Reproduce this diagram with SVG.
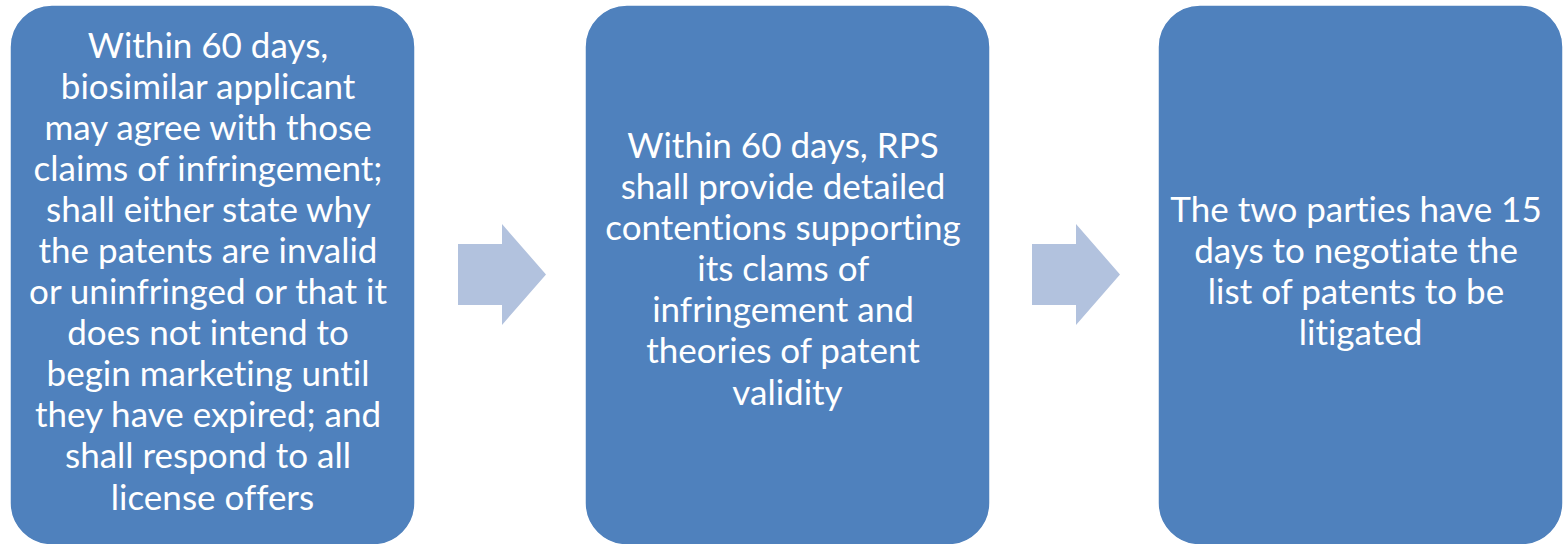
<svg xmlns="http://www.w3.org/2000/svg" width="1563" height="544" viewBox="0 0 1563 544">
<style>
.box{fill:#4F81BD;stroke:#FFFFFF;stroke-width:1.5}
.arrow{fill:#B2C2DE}
.t{font-family:Lato,"Open Sans","Liberation Sans",sans-serif;font-size:35px;fill:#FFFFFF;text-anchor:middle;font-variant-ligatures:none}
</style>
<rect width="1563" height="544" fill="#FFFFFF"/>
<g id="connectors">
<polygon class="arrow" points="458,244 502,244 502,224 546,274.5 502,325 502,305 458,305"/>
<polygon class="arrow" points="1032,244 1076,244 1076,224 1120,274.5 1076,325 1076,305 1032,305"/>
</g>
<g id="node1">
<rect class="box" x="10" y="5" width="405" height="540" rx="42" ry="42"/>
<text class="t">
<tspan x="212.5" y="58">Within 60 days,</tspan>
<tspan x="212.5" y="99">biosimilar applicant</tspan>
<tspan x="212.5" y="140">may agree with those</tspan>
<tspan x="212.5" y="181">claims of infringement;</tspan>
<tspan x="212.5" y="222">shall either state why</tspan>
<tspan x="212.5" y="263">the patents are invalid</tspan>
<tspan x="212.5" y="304">or uninfringed or that it</tspan>
<tspan x="212.5" y="345">does not intend to</tspan>
<tspan x="212.5" y="386">begin marketing until</tspan>
<tspan x="212.5" y="427">they have expired; and</tspan>
<tspan x="212.5" y="468">shall respond to all</tspan>
<tspan x="212.5" y="510">license offers</tspan>
</text>
</g>
<g id="node2">
<rect class="box" x="585" y="5" width="405" height="540" rx="42" ry="42"/>
<text class="t">
<tspan x="787.5" y="158">Within 60 days, RPS</tspan>
<tspan x="787.5" y="199">shall provide detailed</tspan>
<tspan x="787.5" y="240">contentions supporting</tspan>
<tspan x="787.5" y="281">its clams of</tspan>
<tspan x="787.5" y="322">infringement and</tspan>
<tspan x="787.5" y="363">theories of patent</tspan>
<tspan x="787.5" y="405">validity</tspan>
</text>
</g>
<g id="node3">
<rect class="box" x="1158" y="5" width="405" height="540" rx="42" ry="42"/>
<text class="t">
<tspan x="1360.5" y="222">The two parties have 15</tspan>
<tspan x="1360.5" y="263">days to negotiate the</tspan>
<tspan x="1360.5" y="304">list of patents to be</tspan>
<tspan x="1360.5" y="345">litigated</tspan>
</text>
</g>
</svg>
